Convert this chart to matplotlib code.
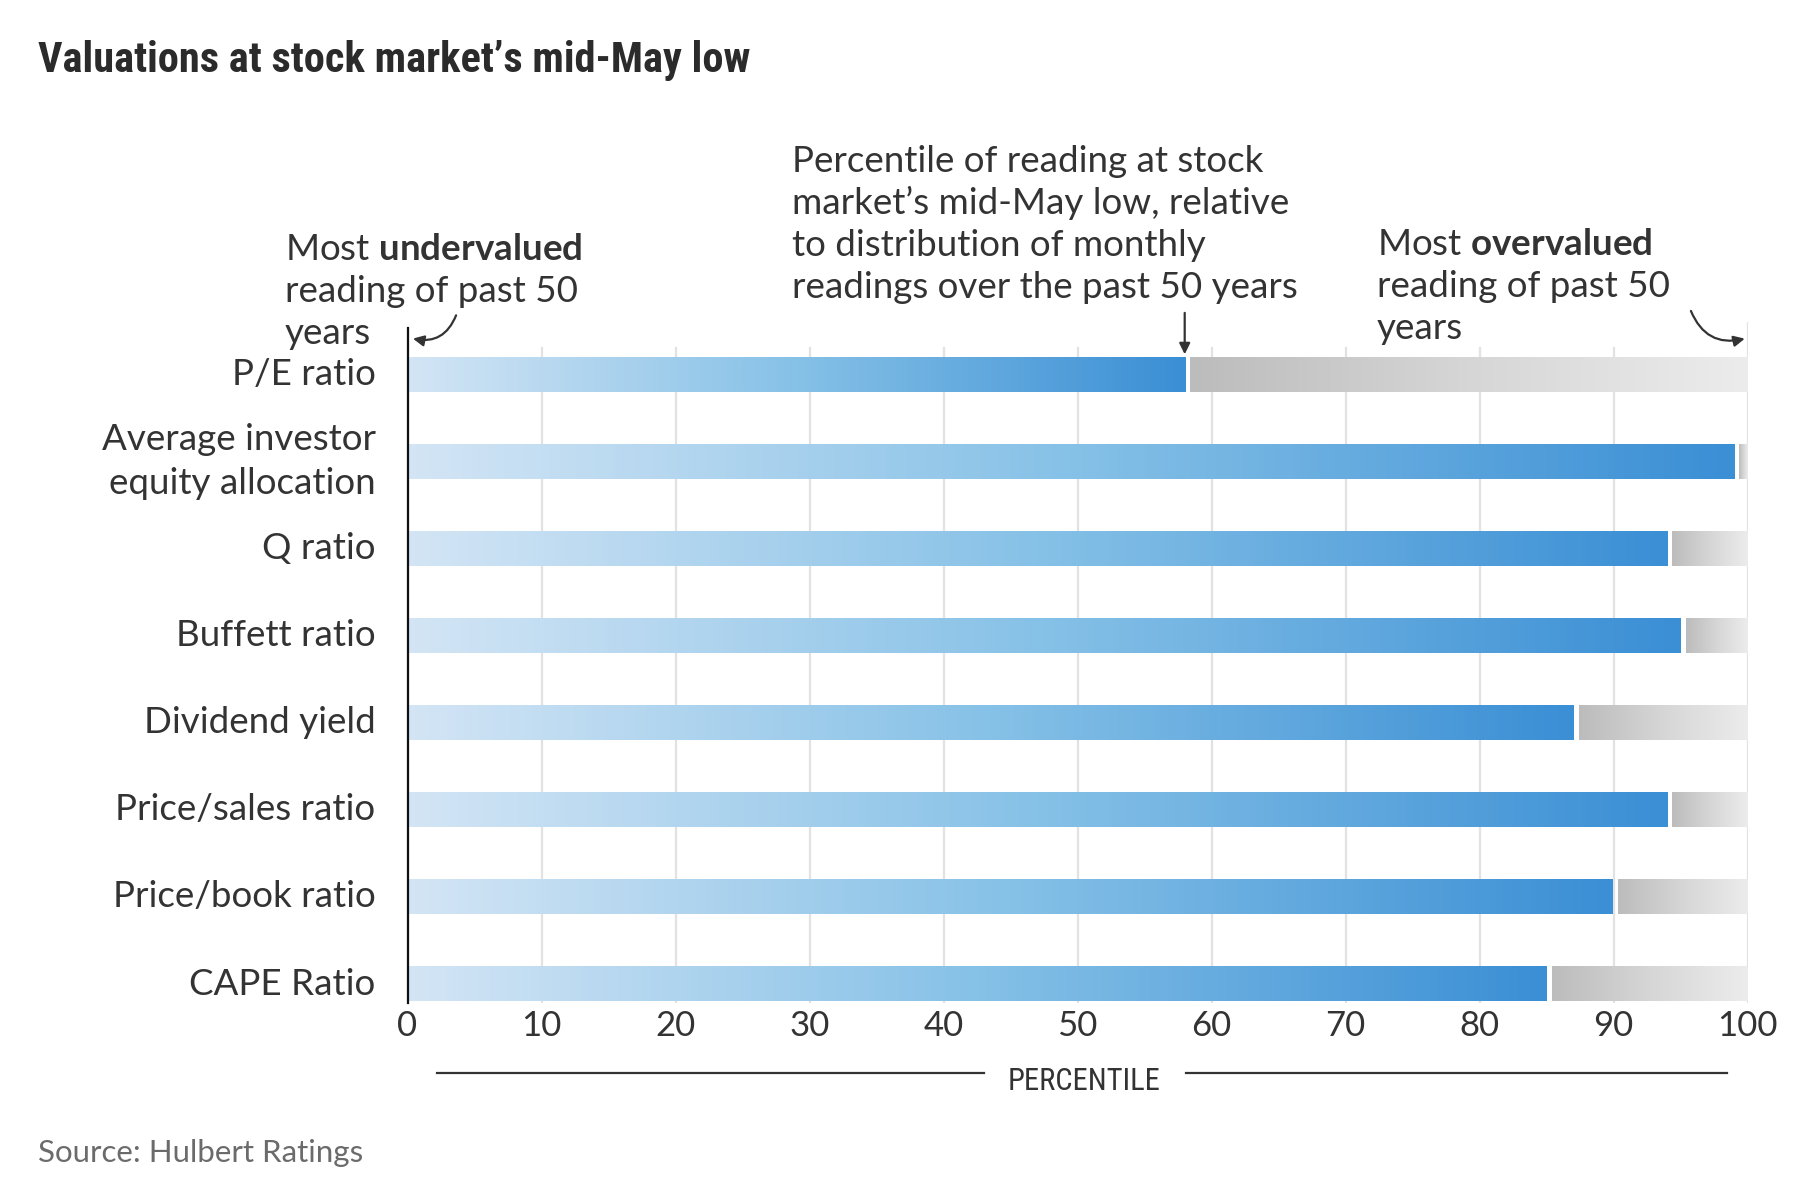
import numpy as np
import matplotlib.pyplot as plt
from matplotlib.colors import LinearSegmentedColormap
from matplotlib.transforms import ScaledTranslation

# data
categories = ["P/E ratio", "Average investor\nequity allocation", "Q ratio", "Buffett ratio",
              "Dividend yield", "Price/sales ratio", "Price/book ratio", "CAPE Ratio"]
percentiles = [58, 99, 94, 95, 87, 94, 89.9, 85]
xticks = [0, 10, 20, 30, 40, 50, 60, 70, 80, 90, 100]

plt.rcParams['font.family'] = ['Lato', 'DejaVu Sans']
plt.rcParams['mathtext.fontset'] = 'custom'
plt.rcParams['mathtext.rm'] = 'Lato'
plt.rcParams['mathtext.bf'] = 'Lato:bold'

NARROW = ['Roboto Condensed', 'DejaVu Sans Condensed', 'Liberation Sans Narrow', 'Lato']

W, H = 1814, 1202
TXT = '#333333'
FS = 26.5

fig = plt.figure(figsize=(W / 100, H / 100), dpi=100)
ax = fig.add_axes([407.5 / W, 1 - 1003.2 / H, 1340 / W, 680.9 / H])

blues = LinearSegmentedColormap.from_list('b', ['#d3e5f5', '#86c1e7', '#3b8fd5'])
grays = LinearSegmentedColormap.from_list('g', ['#bcbcbc', '#d6d6d6', '#ececed'])
grad = np.linspace(0, 1, 256).reshape(1, -1)

h = 0.40
gap = 0.4
for i, v in enumerate(percentiles):
    ax.imshow(grad, cmap=blues, extent=[0, v, i + h / 2, i - h / 2],
              aspect='auto', interpolation='bilinear', zorder=3)
    ax.imshow(grad, cmap=grays, extent=[v + gap, 100, i + h / 2, i - h / 2],
              aspect='auto', interpolation='bilinear', zorder=3)

# gridlines
for t in xticks[1:]:
    top = -0.59 if t == 100 else -0.3
    ax.plot([t, t], [top, 7.22], color='#e2e2e2', lw=1.6, zorder=1)

ax.set_xlim(0, 100)
ax.set_ylim(7.22, -0.6)
ax.set_aspect('auto')

for s in ['top', 'right', 'bottom']:
    ax.spines[s].set_visible(False)
ax.spines['left'].set_bounds(7.22, -0.535)
ax.spines['left'].set_linewidth(1.6)
ax.spines['left'].set_color('#111111')
ax.spines['left'].set_zorder(5)

ax.set_xticks(xticks)
ax.set_xticklabels([str(t) for t in xticks])
ax.set_yticks(range(len(categories)))
ax.set_yticklabels(categories, linespacing=1.42)
ax.tick_params(axis='x', length=0, pad=5, labelsize=25, labelcolor=TXT)
ax.tick_params(axis='y', length=0, pad=23, labelsize=FS, labelcolor=TXT)
# labels sit a touch above the bar centres
for k, lab in enumerate(ax.get_yticklabels()):
    dy = 9 if k == 1 else 3
    lab.set_transform(lab.get_transform() + ScaledTranslation(0, dy / 100, fig.dpi_scale_trans))

# arrows
arw = dict(arrowstyle='-|>,head_length=0.65,head_width=0.32', color='#333333', lw=1.6)
ax.annotate('', xy=(0.2, -0.42), xytext=(3.7, -0.71), annotation_clip=False,
            arrowprops=dict(connectionstyle='arc3,rad=-0.45', **arw))
ax.annotate('', xy=(100, -0.42), xytext=(95.7, -0.76), annotation_clip=False,
            arrowprops=dict(connectionstyle='arc3,rad=0.45', **arw))
ax.annotate('', xy=(percentiles[0], -0.2), xytext=(percentiles[0], -0.74), annotation_clip=False,
            arrowprops=dict(connectionstyle='arc3', **arw))


def lines(x, y0, rows, step=42):
    for k, r in enumerate(rows):
        fig.text(x / W, 1 - (y0 + k * step) / H, r, fontsize=FS, color=TXT,
                 ha='left', va='baseline')


lines(285, 260, [r"Most $\mathbf{undervalued}$", "reading of past 50", "years"])
lines(792, 172, ["Percentile of reading at stock", "market\u2019s mid-May low, relative",
                 "to distribution of monthly", "readings over the past 50 years"])
lines(1377, 255, [r"Most $\mathbf{overvalued}$", "reading of past 50", "years"])

# title, axis label, source
fig.text(38 / W, 1 - 72 / H, "Valuations at stock market\u2019s mid-May low",
         fontsize=30.5, fontweight='bold', color='#2b2b2b', ha='left', va='baseline',
         family=NARROW)
fig.text(1084 / W, 1 - 1081 / H, "PERCENTILE", fontsize=22, color=TXT, ha='center', va='center',
         family=NARROW)
fig.add_artist(plt.Line2D([437 / W, 984 / W], [1 - 1073 / H] * 2, color='#333333', lw=1.6))
fig.add_artist(plt.Line2D([1186 / W, 1727 / W], [1 - 1073 / H] * 2, color='#333333', lw=1.6))
fig.text(38 / W, 1 - 1162 / H, "Source: Hulbert Ratings", fontsize=22.5, color='#6b6b6b',
         ha='left', va='baseline')

fig.savefig('out.png', dpi=100, facecolor='white')
